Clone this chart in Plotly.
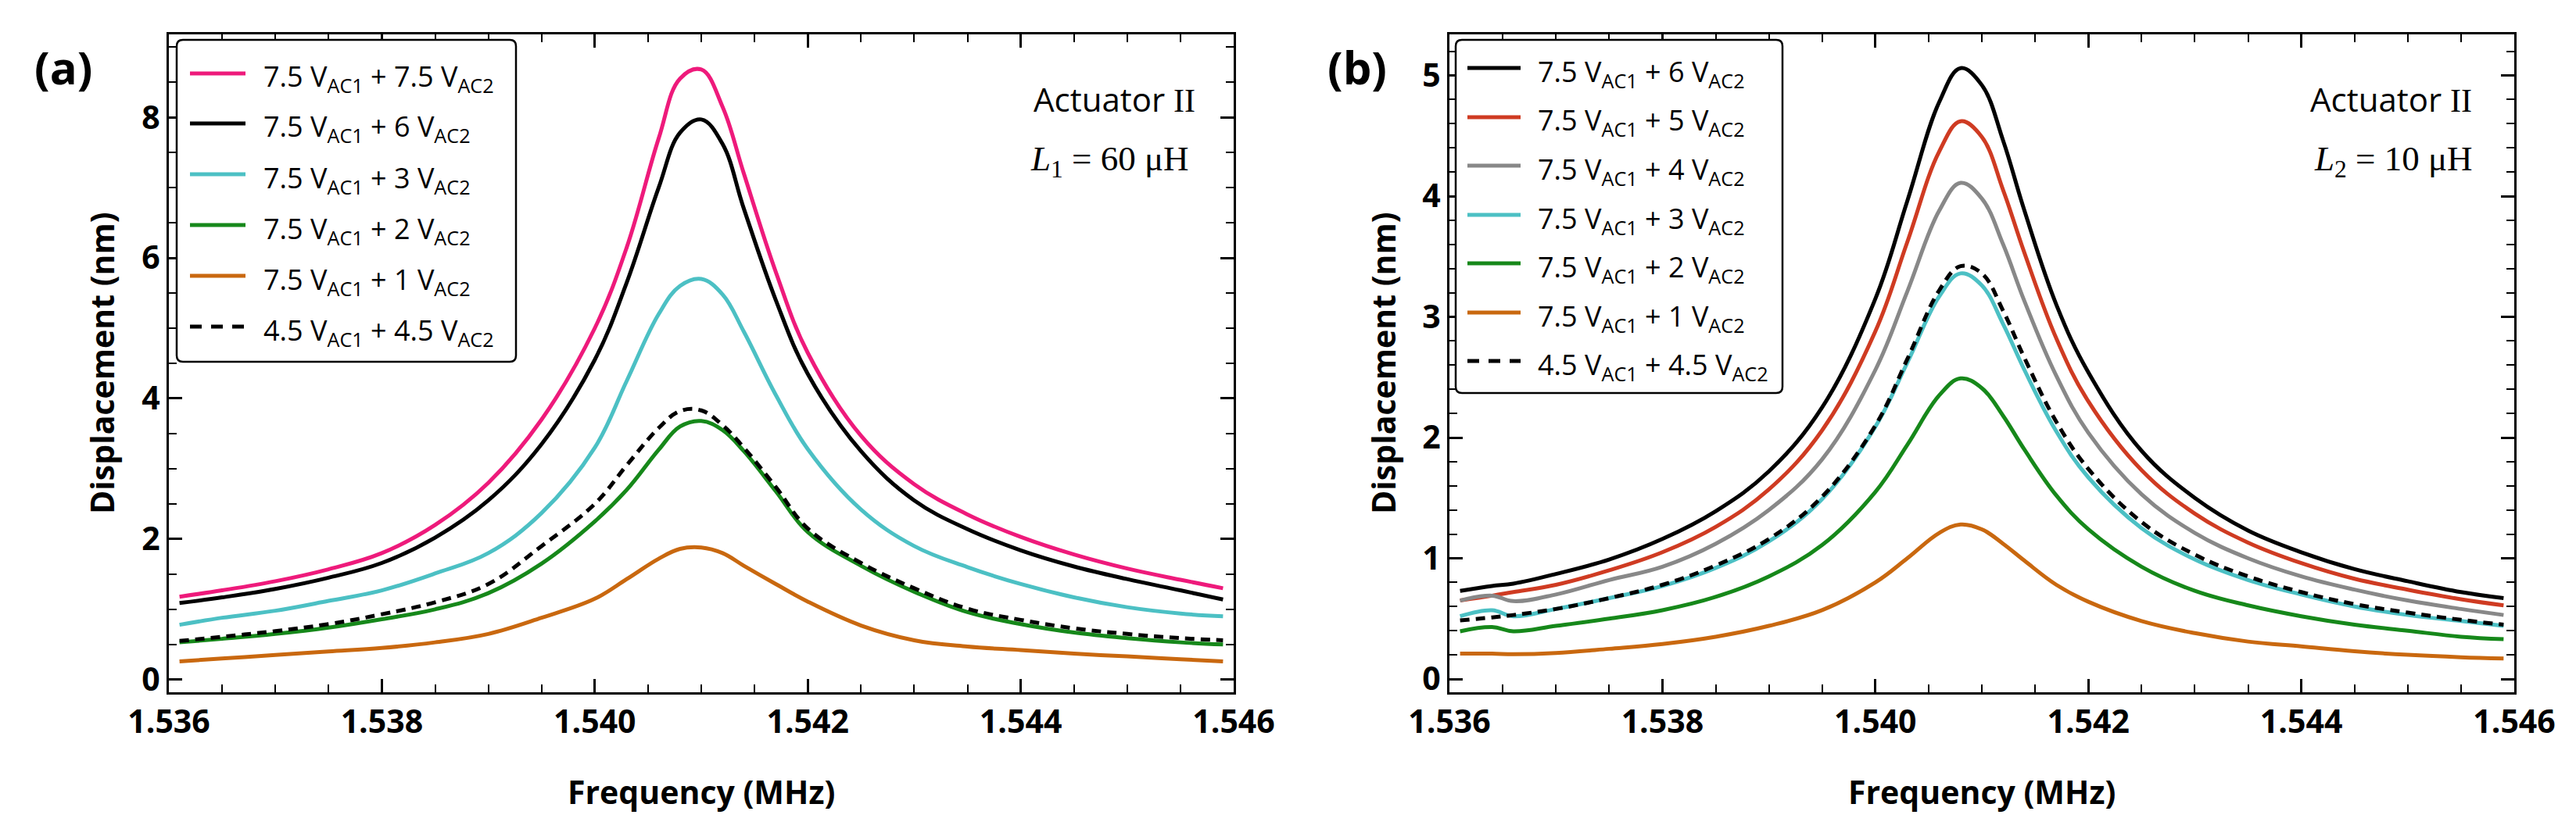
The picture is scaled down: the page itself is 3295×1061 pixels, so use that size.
import plotly.graph_objects as go

W, H = 3295, 1061

# ---- panel (a) : L1 = 60 uH ----
freq_a = [1.5361, 1.5365, 1.5370, 1.5375, 1.5380, 1.5385, 1.5390, 1.5395, 1.5400, 1.5403,
          1.5406, 1.5408, 1.5410, 1.5412, 1.5414, 1.5417, 1.5420, 1.5425, 1.5430, 1.5435,
          1.5440, 1.5445, 1.5450, 1.5455, 1.5459]
pink_a = [1.18, 1.27, 1.40, 1.57, 1.80, 2.20, 2.80, 3.70, 5.00, 6.15, 7.70, 8.55, 8.68, 8.15,
          7.20, 5.80, 4.65, 3.47, 2.78, 2.35, 2.03, 1.78, 1.58, 1.42, 1.30]
black_a = [1.09, 1.17, 1.29, 1.45, 1.66, 2.02, 2.55, 3.35, 4.55, 5.65, 7.00, 7.78, 7.97, 7.62,
           6.70, 5.40, 4.35, 3.25, 2.55, 2.14, 1.84, 1.61, 1.43, 1.27, 1.14]
cyan_a = [0.78, 0.88, 0.98, 1.12, 1.27, 1.51, 1.80, 2.37, 3.30, 4.25, 5.20, 5.60, 5.70, 5.48,
          4.95, 4.05, 3.28, 2.42, 1.90, 1.60, 1.36, 1.17, 1.03, 0.94, 0.90]
green_a = [0.53, 0.58, 0.65, 0.74, 0.86, 1.00, 1.23, 1.65, 2.25, 2.70, 3.27, 3.60, 3.68, 3.55,
           3.25, 2.68, 2.10, 1.62, 1.25, 0.96, 0.79, 0.67, 0.59, 0.53, 0.50]
orange_a = [0.26, 0.30, 0.35, 0.40, 0.45, 0.53, 0.65, 0.88, 1.15, 1.43, 1.72, 1.86, 1.88, 1.80,
            1.62, 1.36, 1.11, 0.77, 0.56, 0.47, 0.42, 0.37, 0.33, 0.29, 0.26]
dashed_a = [0.55, 0.61, 0.69, 0.79, 0.93, 1.10, 1.36, 1.90, 2.50, 3.05, 3.58, 3.82, 3.83, 3.62,
            3.30, 2.74, 2.15, 1.66, 1.30, 1.01, 0.85, 0.73, 0.65, 0.59, 0.56]

# ---- panel (b) : L2 = 10 uH ----
freq_b = [1.5361, 1.5364, 1.5366, 1.5370, 1.5375, 1.5380, 1.5385, 1.5390, 1.5395, 1.5400,
          1.5403, 1.5406, 1.5408, 1.5410, 1.5412, 1.5414, 1.5417, 1.5420, 1.5425, 1.5430,
          1.5435, 1.5440, 1.5445, 1.5450, 1.5455, 1.5459]
black_b = [0.73, 0.77, 0.79, 0.87, 0.99, 1.16, 1.39, 1.72, 2.25, 3.15, 3.96, 4.78, 5.06, 4.92,
           4.46, 3.88, 3.10, 2.54, 1.89, 1.50, 1.23, 1.05, 0.91, 0.81, 0.72, 0.67]
red_b = [0.65, 0.69, 0.72, 0.78, 0.90, 1.05, 1.26, 1.57, 2.06, 2.88, 3.62, 4.37, 4.62, 4.49,
         4.05, 3.53, 2.82, 2.30, 1.73, 1.37, 1.13, 0.96, 0.83, 0.74, 0.66, 0.61]
gray_b = [0.65, 0.69, 0.645, 0.70, 0.82, 0.93, 1.12, 1.40, 1.82, 2.56, 3.21, 3.88, 4.11, 3.98,
          3.60, 3.13, 2.51, 2.04, 1.53, 1.21, 1.00, 0.85, 0.74, 0.65, 0.58, 0.53]
cyan_b = [0.52, 0.57, 0.52, 0.58, 0.67, 0.77, 0.92, 1.14, 1.49, 2.09, 2.62, 3.17, 3.36, 3.26,
          2.94, 2.56, 2.05, 1.67, 1.25, 0.99, 0.82, 0.70, 0.60, 0.53, 0.48, 0.44]
green_b = [0.395, 0.43, 0.395, 0.44, 0.50, 0.57, 0.68, 0.85, 1.11, 1.55, 1.94, 2.35, 2.49, 2.41,
           2.18, 1.90, 1.52, 1.24, 0.93, 0.73, 0.61, 0.52, 0.45, 0.40, 0.35, 0.33]
orange_b = [0.21, 0.21, 0.205, 0.215, 0.25, 0.29, 0.35, 0.44, 0.57, 0.80, 1.00, 1.21, 1.28, 1.24,
            1.12, 0.98, 0.78, 0.64, 0.48, 0.38, 0.31, 0.27, 0.23, 0.20, 0.18, 0.17]
dashed_b = [0.485, 0.51, 0.53, 0.58, 0.67, 0.78, 0.94, 1.16, 1.51, 2.10, 2.65, 3.22, 3.42, 3.36,
            3.05, 2.66, 2.13, 1.74, 1.30, 1.03, 0.85, 0.72, 0.62, 0.55, 0.49, 0.45]

PINK, BLACK, CYAN, GREEN, ORANGE = '#EE1A7B', '#000000', '#4CC0C4', '#16881A', '#C9680F'
RED, GRAY = '#CF3B22', '#888888'


def lab(a, b):
    return '%s V<sub>AC1</sub> + %s V<sub>AC2</sub>' % (a, b)


series_a = [
    (pink_a, PINK, 'solid', lab('7.5', '7.5')),
    (black_a, BLACK, 'solid', lab('7.5', '6')),
    (cyan_a, CYAN, 'solid', lab('7.5', '3')),
    (green_a, GREEN, 'solid', lab('7.5', '2')),
    (orange_a, ORANGE, 'solid', lab('7.5', '1')),
    (dashed_a, BLACK, 'dash', lab('4.5', '4.5')),
]
series_b = [
    (black_b, BLACK, 'solid', lab('7.5', '6')),
    (red_b, RED, 'solid', lab('7.5', '5')),
    (gray_b, GRAY, 'solid', lab('7.5', '4')),
    (cyan_b, CYAN, 'solid', lab('7.5', '3')),
    (green_b, GREEN, 'solid', lab('7.5', '2')),
    (orange_b, ORANGE, 'solid', lab('7.5', '1')),
    (dashed_b, BLACK, 'dash', lab('4.5', '4.5')),
]

fig = go.Figure()
for ys, c, d, name in series_a:
    fig.add_trace(go.Scatter(x=freq_a, y=ys, mode='lines', name=name, xaxis='x', yaxis='y',
                             line=dict(color=c, width=5, shape='spline', smoothing=1.1,
                                       dash='12px,8px' if d == 'dash' else 'solid')))
for ys, c, d, name in series_b:
    fig.add_trace(go.Scatter(x=freq_b, y=ys, mode='lines', name=name, xaxis='x2', yaxis='y2',
                             line=dict(color=c, width=5, shape='spline', smoothing=1.1,
                                       dash='12px,8px' if d == 'dash' else 'solid')))


def px(x):
    return x / W


def py(y):
    return 1 - y / H


FONT = 'Open Sans'
tickfont = dict(family=FONT, size=41, color='black', weight='bold')


def xax(x0, x1, anchor):
    return dict(domain=[px(x0), px(x1)], range=[1.536, 1.546], tickmode='linear', tick0=1.536,
                dtick=0.002, tickformat='.3f', ticks='inside', ticklen=17, tickwidth=2.5,
                tickcolor='black', showline=True, linewidth=3, linecolor='black', mirror='ticks',
                showgrid=False, zeroline=False, tickfont=tickfont, automargin=False,
                anchor=anchor,
                minor=dict(ticks='inside', ticklen=10, tickwidth=2, tickcolor='black',
                           dtick=0.0005, tick0=1.536, showgrid=False))


def yax(rng, dt, mdt, anchor):
    return dict(domain=[py(878), py(36)], range=rng, tickmode='linear', tick0=0, dtick=dt,
                ticks='inside', ticklen=17, tickwidth=2.5, tickcolor='black', showline=True,
                linewidth=3, linecolor='black', mirror='ticks', showgrid=False, zeroline=False,
                tickfont=tickfont, anchor=anchor, automargin=False,
                minor=dict(ticks='inside', ticklen=10, tickwidth=2, tickcolor='black',
                           dtick=mdt, tick0=0, showgrid=False))


shapes = []
annotations = []


def legend_box(x0, x1, y0, y1, rows, line_x0, line_x1, text_x, entries):
    r = 8
    path = ('M %f,%f L %f,%f Q %f,%f %f,%f L %f,%f Q %f,%f %f,%f L %f,%f Q %f,%f %f,%f '
            'L %f,%f Q %f,%f %f,%f Z') % (
        px(x0 + r), py(y0), px(x1 - r), py(y0), px(x1), py(y0), px(x1), py(y0 + r),
        px(x1), py(y1 - r), px(x1), py(y1), px(x1 - r), py(y1),
        px(x0 + r), py(y1), px(x0), py(y1), px(x0), py(y1 - r),
        px(x0), py(y0 + r), px(x0), py(y0), px(x0 + r), py(y0))
    shapes.append(dict(type='path', xref='paper', yref='paper', path=path,
                       line=dict(color='black', width=2.5), fillcolor='white', layer='above'))
    for yy, (ys, c, d, name) in zip(rows, entries):
        shapes.append(dict(type='line', xref='paper', yref='paper', x0=px(line_x0), x1=px(line_x1),
                           y0=py(yy), y1=py(yy), layer='above',
                           line=dict(color=c, width=5, dash='15px,12px' if d == 'dash' else 'solid')))
        annotations.append(dict(xref='paper', yref='paper', x=px(text_x), y=py(yy + 6),
                                xanchor='left', yanchor='middle', text=name, showarrow=False,
                                font=dict(family=FONT, size=36, color='black')))


legend_box(218, 652, 43, 455, [86, 150, 215, 280, 345, 410], 235, 306, 327, series_a)
legend_box(1854, 2272, 43, 495, [79, 142, 204, 267, 329, 392, 454], 1869, 1937, 1957, series_b)


def txt(x, y, s, size, xanchor='center', angle=0, bold=True, family=FONT):
    annotations.append(dict(xref='paper', yref='paper', x=px(x), y=py(y), text=s,
                            showarrow=False, xanchor=xanchor, yanchor='middle', textangle=angle,
                            font=dict(family=family, size=size, color='black',
                                      weight='bold' if bold else 'normal')))


txt(73, 78, '(a)', 58)
txt(1728, 78, '(b)', 58)
txt(122, 457, 'Displacement (nm)', 41, angle=-90)
txt(1761, 457, 'Displacement (nm)', 41, angle=-90)
txt(889, 1005, 'Frequency (MHz)', 41)
txt(2527, 1005, 'Frequency (MHz)', 41)

SERIF = 'Liberation Serif'
txt(1523, 118, 'Actuator <span style="font-family:Liberation Serif">II</span>', 42,
    xanchor='right', bold=False)
txt(1515, 198, '<i>L</i><sub>1</sub> = 60 μH', 45, xanchor='right', bold=False, family=SERIF)
txt(3156, 118, 'Actuator <span style="font-family:Liberation Serif">II</span>', 42,
    xanchor='right', bold=False)
txt(3157, 198, '<i>L</i><sub>2</sub> = 10 μH', 45, xanchor='right', bold=False, family=SERIF)

fig.update_layout(
    width=W, height=H, margin=dict(l=0, r=0, t=0, b=0, autoexpand=False),
    paper_bgcolor='white', plot_bgcolor='white', showlegend=False,
    xaxis=xax(208, 1570, 'y'), yaxis=yax([-0.18, 9.18], 2, 0.5, 'x'),
    xaxis2=xax(1846, 3208, 'y2'), yaxis2=yax([-0.11, 5.34], 1, 0.2, 'x2'),
    shapes=shapes, annotations=annotations,
)

fig.write_html('out.html')
